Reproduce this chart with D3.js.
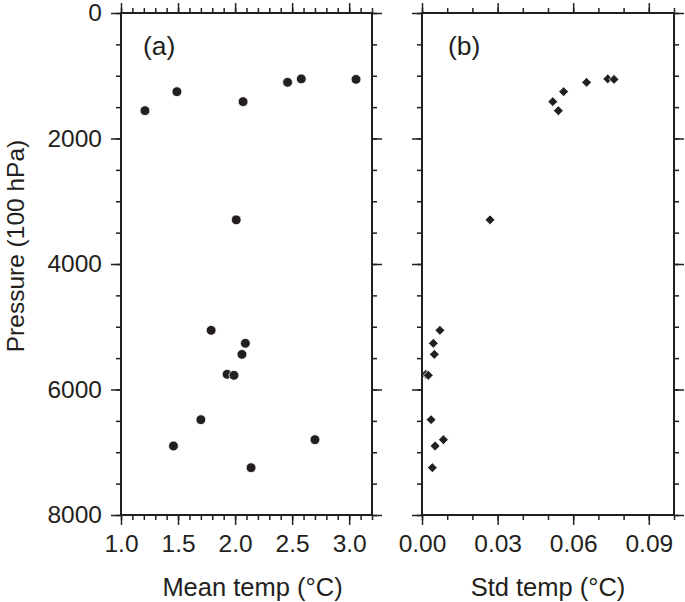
<!DOCTYPE html>
<html>
<head>
<meta charset="utf-8">
<script src="https://cdnjs.cloudflare.com/ajax/libs/d3/7.8.5/d3.min.js"></script>
<style>
    body { margin: 0; background: #fff; }
    text { font-family: "Liberation Sans", Arial, Helvetica, sans-serif; fill: #231f20; }
</style>
</head>
<body>
<div id="chart"></div>
<script>
// pressure levels (100 hPa), shared by both panels
const pressure = [1050, 1058, 1105, 1254, 1413, 1557, 3296, 5057, 5264, 5440, 5758, 5774, 6481, 6800, 6900, 7246];
const meanTemp = [2.58, 3.06, 2.46, 1.49, 2.07, 1.21, 2.01, 1.79, 2.09, 2.06, 1.93, 1.99, 1.70, 2.70, 1.46, 2.14];
const stdTemp = [0.0737, 0.0762, 0.0653, 0.0562, 0.0519, 0.0541, 0.0270, 0.0071, 0.0045, 0.0049, 0.0015, 0.0025, 0.0036, 0.0085, 0.0052, 0.0041];

const pressureTicks = [0, 2000, 4000, 6000, 8000];
const meanTicks = [1.0, 1.5, 2.0, 2.5, 3.0];
const stdTicks = [0.00, 0.03, 0.06, 0.09];

const ink = "#231f20";
const width = 685, height = 602;
const plotTop = 13, plotBottom = 515;

let svg = d3.select("#chart").append("svg")
    .attr("width", width)
    .attr("height", height);

let y = d3.scaleLinear().domain([0, 8000]).range([plotTop, plotBottom]);

function drawPanel(opts) {
    let x = d3.scaleLinear().domain(opts.domain).range(opts.range);
    let g = svg.append("g");

    // points
    let pts = pressure.map((p, i) => ({p: p, v: opts.values[i]}));
    if (opts.shape === "circle") {
        g.selectAll("circle").data(pts).enter().append("circle")
            .attr("cx", d => x(d.v))
            .attr("cy", d => y(d.p))
            .attr("r", 4.9)
            .attr("fill", ink)
            .attr("stroke", "#fff")
            .attr("stroke-width", 0.8);
    } else {
        g.selectAll("path.pt").data(pts).enter().append("path")
            .attr("class", "pt")
            .attr("d", d3.symbol().type(d3.symbolDiamond2).size(62))
            .attr("transform", d => "translate(" + x(d.v) + "," + y(d.p) + ")")
            .attr("fill", ink)
            .attr("stroke", "#fff")
            .attr("stroke-width", 0.8);
    }

    const x0 = opts.range[0], x1 = opts.range[1];

    // helper for an axis with major + minor ticks
    function addAxis(axisFn, scale, majors, minors, transform, labelled, fmt, pad) {
        let minor = g.append("g").attr("transform", transform)
            .call(axisFn(scale).tickValues(minors).tickSize(5).tickSizeOuter(0).tickFormat(""));
        let major = g.append("g").attr("transform", transform)
            .call(axisFn(scale).tickValues(majors).tickSize(10).tickSizeOuter(0)
                .tickPadding(labelled ? pad : 0).tickFormat(labelled ? fmt : ""));
        [minor, major].forEach(a => {
            a.select(".domain").remove();
            a.selectAll("line").attr("stroke", ink).attr("stroke-width", 1.5);
            a.selectAll("text").attr("font-size", 24.5).attr("fill", ink);
        });
        return major;
    }

    let xMinor = d3.range(opts.domain[0], opts.domain[1] + 1e-9, opts.minorStep);
    let yMinor = d3.range(0, 8001, 500);

    addAxis(d3.axisBottom, x, opts.ticks, xMinor, "translate(0," + plotBottom + ")", true, opts.fmt, 10);
    addAxis(d3.axisTop, x, opts.ticks, xMinor, "translate(0," + plotTop + ")", false);
    addAxis(d3.axisLeft, y, pressureTicks, yMinor, "translate(" + x0 + ",0)", opts.yLabels, d3.format("d"), 9);
    addAxis(d3.axisRight, y, pressureTicks, yMinor, "translate(" + x1 + ",0)", false);

    // frame
    g.append("rect")
        .attr("x", x0).attr("y", plotTop)
        .attr("width", x1 - x0).attr("height", plotBottom - plotTop)
        .attr("fill", "none")
        .attr("stroke", ink)
        .attr("stroke-width", 2);

    // panel tag
    g.append("text")
        .attr("x", x0 + opts.tagDx)
        .attr("y", 55)
        .attr("font-size", 26.5)
        .text(opts.tag);

    // x axis title
    g.append("text")
        .attr("x", (x0 + x1) / 2 + opts.titleDx)
        .attr("y", 596)
        .attr("text-anchor", "middle")
        .attr("font-size", 25.5)
        .text(opts.title);
}

drawPanel({
    values: meanTemp, domain: [1.0, 3.2], range: [121, 372], ticks: meanTicks,
    minorStep: 0.1, fmt: d3.format(".1f"), shape: "circle", yLabels: true,
    tag: "(a)", tagDx: 22, title: "Mean temp (\u00b0C)", titleDx: 6
});

drawPanel({
    values: stdTemp, domain: [0, 0.1], range: [422, 674], ticks: stdTicks,
    minorStep: 0.01, fmt: d3.format(".2f"), shape: "diamond", yLabels: false,
    tag: "(b)", tagDx: 26, title: "Std temp (\u00b0C)", titleDx: 0
});

// y axis title
svg.append("text")
    .attr("transform", "translate(24,246) rotate(-90)")
    .attr("text-anchor", "middle")
    .attr("font-size", 24.5)
    .text("Pressure (100 hPa)");
</script>
</body>
</html>
